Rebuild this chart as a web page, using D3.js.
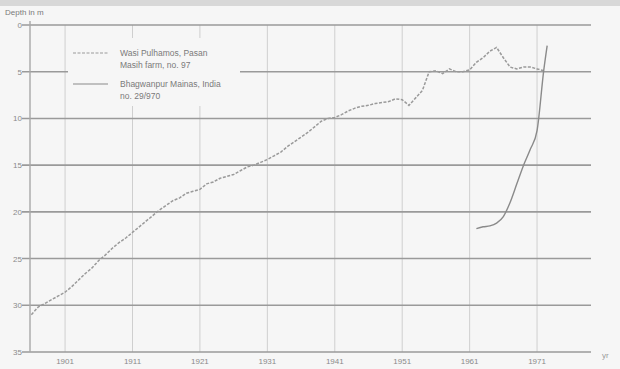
<!DOCTYPE html>
<html>
<head>
<meta charset="utf-8">
<script src="https://cdn.jsdelivr.net/npm/d3@7"></script>
<style>
  body { margin: 0; background: #f6f6f6; }
  svg { display: block; font-family: "Liberation Sans", Arial, sans-serif; }
</style>
</head>
<body>
<svg id="chart" width="620" height="369"></svg>
<script>
// Well hydrographs: depth to water table (m) by year
const years1 = [1896,1897,1898,1899,1900,1901,1902,1903,1904,1905,1906,1907,1908,1909,1910,
  1911,1912,1913,1914,1915,1916,1917,1918,1919,1920,1921,1922,1923,1924,1925,1926,1927,1928,
  1929,1930,1931,1932,1933,1934,1935,1936,1937,1938,1939,1940,1941,1942,1943,1944,1945,1946,
  1947,1948,1949,1950,1951,1952,1953,1954,1955,1956,1957,1958,1959,1960,1961,1962,1963,1964,
  1965,1966,1967,1968,1969,1970,1971,1972];
const depth1 = [31.0,30.2,29.8,29.4,29.0,28.6,28.0,27.3,26.6,26.0,25.2,24.6,23.9,23.3,22.8,
  22.2,21.6,21.0,20.4,19.8,19.3,18.8,18.5,18.0,17.8,17.6,17.0,16.8,16.4,16.2,16.0,15.6,15.2,
  15.0,14.7,14.4,14.0,13.6,13.0,12.5,12.0,11.5,10.9,10.3,10.0,9.9,9.6,9.2,8.9,8.7,8.6,
  8.4,8.3,8.2,7.9,8.0,8.6,7.8,7.0,5.0,4.9,5.2,4.7,5.0,5.0,4.8,4.0,3.5,2.8,
  2.4,3.5,4.5,4.7,4.5,4.5,4.7,4.9];

const years2 = [1962,1963,1964,1965,1966,1967,1968,1969,1970,1971,1972,1972.5];
const depth2 = [21.8,21.6,21.5,21.2,20.5,19.0,17.0,15.0,13.3,11.3,4.8,2.2];

const yTicks = [0,5,10,15,20,25,30,35];
const xTicks = [1901,1911,1921,1931,1941,1951,1961,1971];
const legendLines = [
  ["Wasi Pulhamos, Pasan", "Masih farm, no. 97"],
  ["Bhagwanpur Mainas, India", "no. 29/970"]
];

const svg = d3.select("#chart");
const x = d3.scaleLinear().domain([1895.8, 1979]).range([30, 591]);
const y = d3.scaleLinear().domain([0, 35]).range([25, 352]);

// soft grey band along the top edge
svg.append("rect").attr("x", 0).attr("y", 0).attr("width", 620).attr("height", 6).attr("fill", "#d8d8d8");

// vertical grid
svg.append("g").selectAll("line").data(xTicks).join("line")
  .attr("x1", d => x(d)).attr("x2", d => x(d))
  .attr("y1", y(0)).attr("y2", y(35))
  .attr("stroke", "#cfcfcf").attr("stroke-width", 1);

// horizontal grid
svg.append("g").selectAll("line").data(yTicks).join("line")
  .attr("x1", x.range()[0] - 8).attr("x2", x.range()[1])
  .attr("y1", d => y(d)).attr("y2", d => y(d))
  .attr("stroke", "#9a9a9a").attr("stroke-width", 1.6);

// left axis line
svg.append("line").attr("x1", 30).attr("x2", 30).attr("y1", y(0) - 4).attr("y2", y(35))
  .attr("stroke", "#a8a8a8").attr("stroke-width", 1.4);

// y tick labels
svg.append("g").selectAll("text").data(yTicks).join("text")
  .attr("x", 22).attr("y", d => y(d) + 3)
  .attr("text-anchor", "end").attr("font-size", 8).attr("fill", "#8a8a8a")
  .text(d => d);

// x tick labels
svg.append("g").selectAll("text").data(xTicks).join("text")
  .attr("x", d => x(d)).attr("y", 364)
  .attr("text-anchor", "middle").attr("font-size", 8).attr("fill", "#8a8a8a")
  .text(d => d);

svg.append("text").attr("x", 602).attr("y", 358).attr("font-size", 8)
  .attr("fill", "#9a9a9a").text("yr");
svg.append("text").attr("x", 5).attr("y", 15).attr("font-size", 8)
  .attr("fill", "#7a7a7a").text("Depth in m");

// legend panel
const lg = svg.append("g");
lg.append("rect").attr("x", 68).attr("y", 38).attr("width", 172).attr("height", 68).attr("fill", "#f6f6f6");
const styles = [{dash: "3,1.5", col: "#9a9a9a"}, {dash: null, col: "#8a8a8a"}];
legendLines.forEach((lines, i) => {
  const ly = 53 + i * 31;
  lg.append("line").attr("x1", 73).attr("x2", 108).attr("y1", ly).attr("y2", ly)
    .attr("stroke", styles[i].col).attr("stroke-width", 1.2)
    .attr("stroke-dasharray", styles[i].dash);
  lines.forEach((t, j) => {
    lg.append("text").attr("x", 120).attr("y", ly + 3 + j * 12)
      .attr("font-size", 8.5).attr("fill", "#7a7a7a").text(t);
  });
});

const line = d3.line().x(d => x(d[0])).y(d => y(d[1]));

svg.append("path").datum(d3.zip(years1, depth1))
  .attr("d", line).attr("fill", "none")
  .attr("stroke", styles[0].col).attr("stroke-width", 1.5)
  .attr("stroke-dasharray", styles[0].dash);

svg.append("path").datum(d3.zip(years2, depth2))
  .attr("d", d3.line().curve(d3.curveMonotoneX).x(d => x(d[0])).y(d => y(d[1])))
  .attr("fill", "none").attr("stroke", styles[1].col).attr("stroke-width", 1.4);
</script>
</body>
</html>
